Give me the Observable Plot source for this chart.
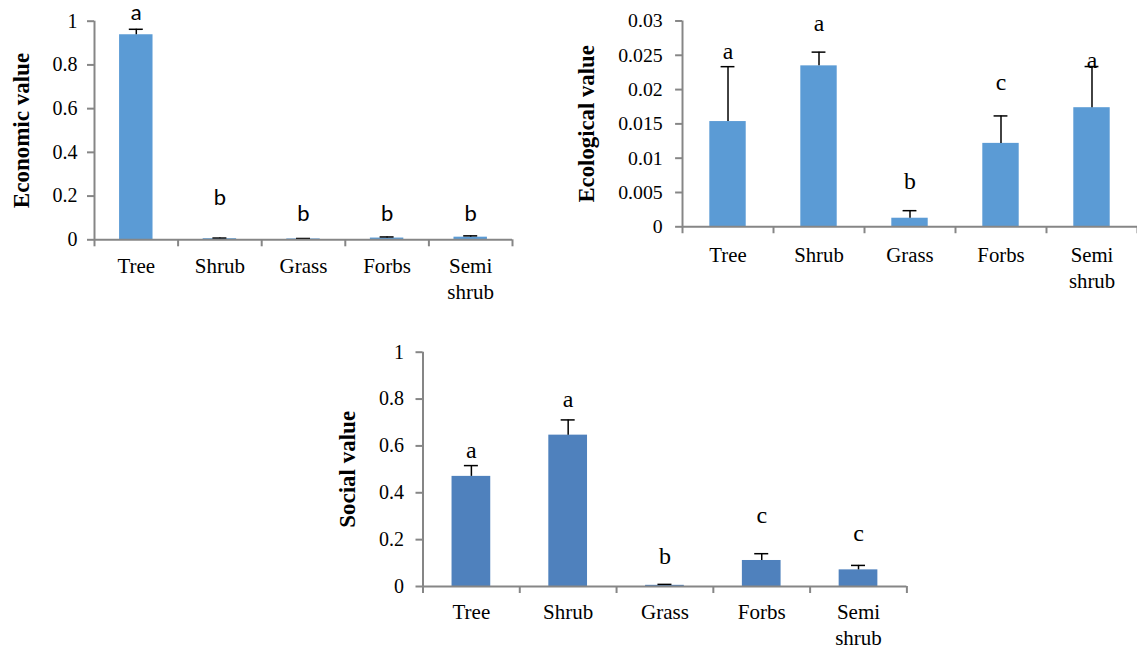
<!DOCTYPE html>
<html>
<head>
<meta charset="utf-8">
<script src="https://cdn.jsdelivr.net/npm/d3@7"></script>
<script src="https://cdn.jsdelivr.net/npm/@observablehq/plot@0.6"></script>
<style>
  html, body { margin: 0; padding: 0; background: #fff; overflow: hidden; }
  #wrap { position: relative; width: 1137px; height: 653px; overflow: hidden; background: #fff; }
  #wrap > div { position: absolute; }
  svg { overflow: visible; }
</style>
</head>
<body>
<div id="wrap">
  <div id="p1" style="left:0px;top:0px"></div>
  <div id="p2" style="left:570px;top:0px"></div>
  <div id="p3" style="left:330px;top:330px"></div>
</div>
<script>
// ---- Data ----
const categories = ["Tree", "Shrub", "Grass", "Forbs", "Semi\nshrub"];

const economicMean = [0.938, 0.005, 0.004, 0.008, 0.012];
const economicSE = [0.025, 0.003, 0.002, 0.005, 0.006];
const economicLetters = ["a", "b", "b", "b", "b"];
const economicLetterY = [1.038, 0.193, 0.12, 0.12, 0.12];
const economicTicks = [0, 0.2, 0.4, 0.6, 0.8, 1];

const ecologicalMean = [0.01534, 0.02346, 0.00125, 0.01216, 0.01736];
const ecologicalSE = [0.0080, 0.0020, 0.0011, 0.0040, 0.0060];
const ecologicalLetters = ["a", "a", "b", "c", "a"];
const ecologicalLetterY = [0.0255, 0.0297, 0.0066, 0.0210, 0.0243];
const ecologicalTicks = [0, 0.005, 0.01, 0.015, 0.02, 0.025, 0.03];

const socialMean = [0.470, 0.646, 0.005, 0.111, 0.071];
const socialSE = [0.046, 0.065, 0.004, 0.029, 0.019];
const socialLetters = ["a", "a", "b", "c", "c"];
const socialLetterY = [0.580, 0.797, 0.128, 0.303, 0.225];
const socialTicks = [0, 0.2, 0.4, 0.6, 0.8, 1];

// ---- Drawing ----
const GRAY = "#868686";
const SERIF = "'Liberation Serif', 'Times New Roman', serif";

function panel(el, cfg) {
  const rows = categories.map((c, i) => ({
    i, cat: c, mean: cfg.mean[i], top: cfg.mean[i] + cfg.se[i],
    letter: cfg.letters[i], ly: cfg.letterY[i]
  }));
  const frameW = cfg.width - cfg.marginLeft - cfg.marginRight;
  const step = frameW / categories.length;
  const inset = step * 0.3;
  const capHalf = 7 / step;
  const bounds = d3.range(categories.length + 1);
  const centers = d3.range(categories.length).map(i => i + 0.5);

  const chart = Plot.plot({
    width: cfg.width,
    height: cfg.height,
    marginLeft: cfg.marginLeft,
    marginRight: cfg.marginRight,
    marginTop: cfg.marginTop,
    marginBottom: cfg.marginBottom,
    style: { fontFamily: SERIF, background: "transparent", overflow: "visible" },
    x: { type: "linear", domain: [0, categories.length], axis: null },
    y: { domain: cfg.domain, axis: null },
    marks: [
      Plot.rect(rows, {
        x1: "i", x2: d => d.i + 1, y1: 0, y2: "mean",
        insetLeft: inset, insetRight: inset, fill: cfg.color
      }),
      Plot.ruleX(rows, { x: d => d.i + 0.5, y1: "mean", y2: "top", stroke: "black", strokeWidth: 1.5 }),
      Plot.ruleY(rows, { y: "top", x1: d => d.i + 0.5 - capHalf, x2: d => d.i + 0.5 + capHalf, stroke: "black", strokeWidth: 1.5 }),
      Plot.ruleY([0], { stroke: GRAY, strokeWidth: 2 }),
      Plot.ruleX([0], { stroke: GRAY, strokeWidth: 2 }),
      Plot.axisY({
        ticks: cfg.ticks, tickFormat: d => String(d), tickSize: 7, tickPadding: cfg.tickPadding,
        stroke: GRAY, strokeWidth: 2, fill: "black", fontSize: 20, fontFamily: SERIF, label: null
      }),
      Plot.axisX({
        ticks: bounds, tickSize: 7, tickFormat: () => "", stroke: GRAY, strokeWidth: 2, label: null
      }),
      Plot.axisX({
        ticks: centers, tickSize: 0, tickPadding: cfg.xPad,
        tickFormat: d => categories[Math.floor(d)],
        fill: "black", fontSize: 21, fontFamily: SERIF, lineHeight: 1.24, label: null
      }),
      Plot.text(rows, {
        x: d => d.i + 0.5, y: "ly", text: "letter",
        fontSize: cfg.letterSize, fontFamily: cfg.letterFont, fill: "black"
      }),
      Plot.text([cfg.title], {
        frameAnchor: "left", textAnchor: "middle", rotate: -90, dx: cfg.titleDx, text: d => d,
        fontSize: 23, fontWeight: "bold", fontFamily: SERIF, fill: "black"
      })
    ]
  });
  document.getElementById(el).appendChild(chart);
}

panel("p1", {
  mean: economicMean, se: economicSE, letters: economicLetters, letterY: economicLetterY,
  ticks: economicTicks, domain: [0, 1], title: "Economic value", color: "#5B9BD5",
  letterFont: "Lato, 'Open Sans', sans-serif", letterSize: 22,
  width: 530, height: 310, marginLeft: 94, marginRight: 18, marginTop: 20.7, marginBottom: 70.7,
  tickPadding: 10, titleDx: -73, xPad: 15
});

panel("p2", {
  mean: ecologicalMean, se: ecologicalSE, letters: ecologicalLetters, letterY: ecologicalLetterY,
  ticks: ecologicalTicks, domain: [0, 0.03], title: "Ecological value", color: "#5B9BD5",
  letterFont: SERIF, letterSize: 24,
  width: 573, height: 310, marginLeft: 113.2, marginRight: 0, marginTop: 20.7, marginBottom: 81.3,
  tickPadding: 13, titleDx: -97, xPad: 17
});

panel("p3", {
  mean: socialMean, se: socialSE, letters: socialLetters, letterY: socialLetterY,
  ticks: socialTicks, domain: [0, 1], title: "Social value", color: "#4F81BD",
  letterFont: SERIF, letterSize: 24,
  width: 580, height: 323, marginLeft: 92.5, marginRight: 3.6, marginTop: 21.7, marginBottom: 67,
  tickPadding: 12, titleDx: -75, xPad: 14
});
</script>
</body>
</html>
